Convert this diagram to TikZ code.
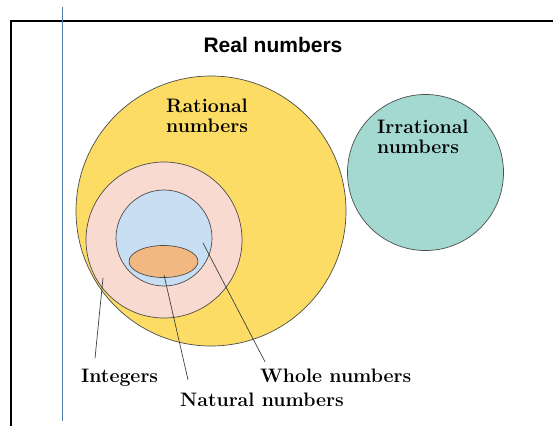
\documentclass[tikz,border=0pt]{standalone}
\usepackage{fontspec}
\newfontfamily\headfont{Liberation Sans}
\definecolor{ratyellow}{RGB}{252,220,100}
\definecolor{intpink}{RGB}{248,218,208}
\definecolor{wholeblue}{RGB}{200,222,242}
\definecolor{natorange}{RGB}{242,184,130}
\definecolor{irrteal}{RGB}{164,217,210}
\definecolor{marginblue}{RGB}{80,125,170}

\begin{document}
\begin{tikzpicture}[x=1pt,y=-1pt,
        lbl/.style={font=\fontsize{19.5}{20.5}\selectfont\bfseries, inner sep=0pt},
        leader/.style={draw=black!75, line width=0.7pt}]
        \useasboundingbox (0,0) rectangle (553,426);
        % frame and margin rule
        \draw[line width=1.6pt] (553,21) -- (11,21) -- (11,426);
        \draw[marginblue, line width=0.8pt] (62,7) -- (62,421);
        % sets
        \foreach \cx/\cy/\r/\col in {211/211/135/ratyellow, 164/240/78/intpink, 164/238/48/wholeblue, 425.5/172.5/78/irrteal}{
            \filldraw[fill=\col, draw=black!70, line width=0.7pt] (\cx,\cy) circle (\r pt);
        }
        \filldraw[fill=natorange, draw=black!70, line width=0.7pt] (163.5,261.5) ellipse (34.5pt and 16pt);
        % labels
        \node[font=\headfont\fontsize{21}{24}\selectfont\bfseries, inner sep=0pt, anchor=base] (realtitle) at (273,52) {Real numbers};
        \node[lbl, align=left, anchor=north west] (rational) at (166,98.5) {Rational\\numbers};
        \node[lbl, align=left, anchor=north west] (irrational) at (377,119.5) {Irrational\\numbers};
        \node[lbl, anchor=base west] (integers) at (81,382) {Integers};
        \node[lbl, anchor=base west] (natural) at (180,406) {Natural numbers};
        \node[lbl, anchor=base west] (whole) at (260,382) {Whole numbers};
        % leaders
        \coordinate (intpt) at (103,278);
        \coordinate (natpt) at (164,275);
        \coordinate (wholept) at (203,243);
        \draw[leader] ([xshift=14pt,yshift=10pt]integers.north west) -- (intpt);
        \draw[leader] ([xshift=8pt,yshift=12.5pt]natural.north west) -- (natpt);
        \draw[leader] ([xshift=5pt,yshift=6.5pt]whole.north west) -- (wholept);
    \end{tikzpicture}
\end{document}
